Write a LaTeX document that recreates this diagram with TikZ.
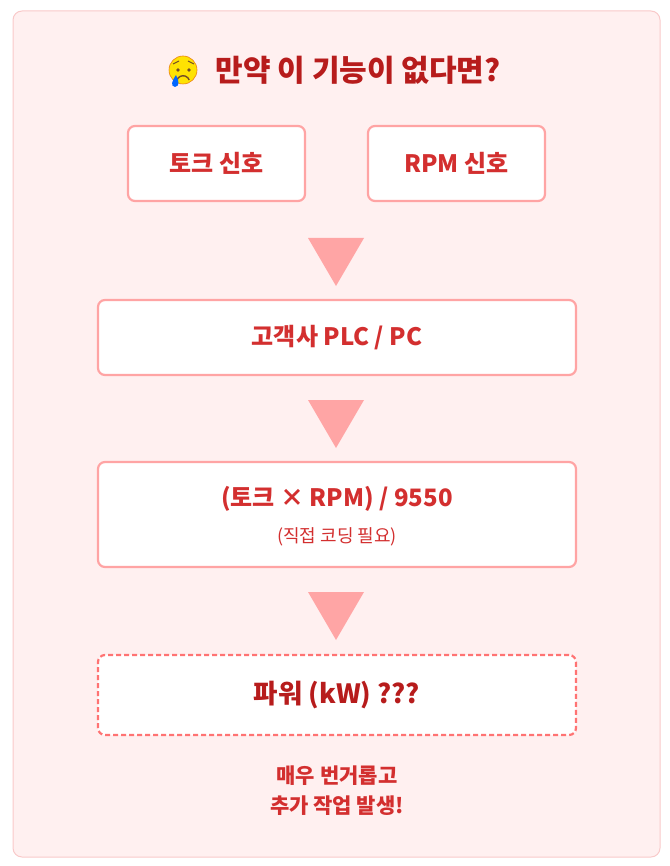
\documentclass[tikz,border=0pt]{standalone}
\usepackage{fontspec}
\setmainfont{Noto Sans CJK KR}
\begin{document}
\begin{tikzpicture}[x=1pt,y=-1pt,
 box/.style={draw=boxc,line width=2.2pt,fill=white,rounded corners=7pt},
 tri/.style={fill=tric,draw=none},
 lbl/.style={text=redc,font=\bfseries\fontsize{24}{28}\selectfont}]
\definecolor{boxc}{HTML}{FFA4A4}
\definecolor{tric}{HTML}{FFA5A5}
\definecolor{redc}{HTML}{D32F2F}
\definecolor{darkc}{HTML}{B71C1C}
\definecolor{panel}{HTML}{FFF0F0}
\definecolor{panelb}{HTML}{F9C9C9}
\useasboundingbox (0,0) rectangle (669,866);
\draw[panelb,fill=panel,line width=1pt,rounded corners=9pt] (13,11) rectangle (660,857);
% emoji
\fill[yellow!85!orange] (183,70) circle (14);
\draw[orange!70!brown,line width=0.6pt] (183,70) circle (14);
\draw[line width=1.4pt,brown!60!black] (177,80) arc (200:340:6.5);
\fill[brown!60!black] (178,70) circle (1.8) (189,70) circle (1.8);
\draw[line width=1.1pt,brown!60!black] (173,64) -- (179,61) (194,64) -- (188,61);
\fill[blue!60!cyan] (176,75) .. controls (172,81) and (170,86) .. (175,87) .. controls (180,86) and (179,81) .. (176,75);
\node[anchor=west,text=darkc,font=\bfseries\fontsize{30}{34}\selectfont] (title) at (212,70) {만약 이 기능이 없다면?};
\node[box,minimum width=177pt,minimum height=75pt,lbl] (t) at (216.5,163.5) {토크 신호};
\node[box,minimum width=177pt,minimum height=75pt,lbl] (r) at (456.5,163.5) {RPM 신호};
\fill[tri] (308,238) -- (364,238) -- (336,286) -- cycle;
\node[box,minimum width=478pt,minimum height=75pt,lbl] (plc) at (337,337.5) {고객사 PLC / PC};
\fill[tri] (308,400) -- (364,400) -- (336,448) -- cycle;
\node[box,minimum width=478pt,minimum height=105pt] (f) at (337,514.5) {};
\node[lbl,font=\bfseries\fontsize{24}{28}\selectfont] (ft) at (337,499) {(토크 × RPM) / 9550};
\node[text=redc,font=\fontsize{18}{21}\selectfont] (fs) at (337,537) {(직접 코딩 필요)};
\fill[tri] (308,592) -- (364,592) -- (336,640) -- cycle;
\node[box,draw=red!55!white,dashed,dash pattern=on 5pt off 3pt,minimum width=478pt,minimum height=80pt,text=darkc,font=\bfseries\fontsize{26.5}{30}\selectfont] (p) at (337,695) {파워 (kW) ???};
\node[text=redc,font=\bfseries\fontsize{21}{30}\selectfont,align=center] (n) at (337,791) {매우 번거롭고\\추가 작업 발생!};
\end{tikzpicture}
\end{document}
